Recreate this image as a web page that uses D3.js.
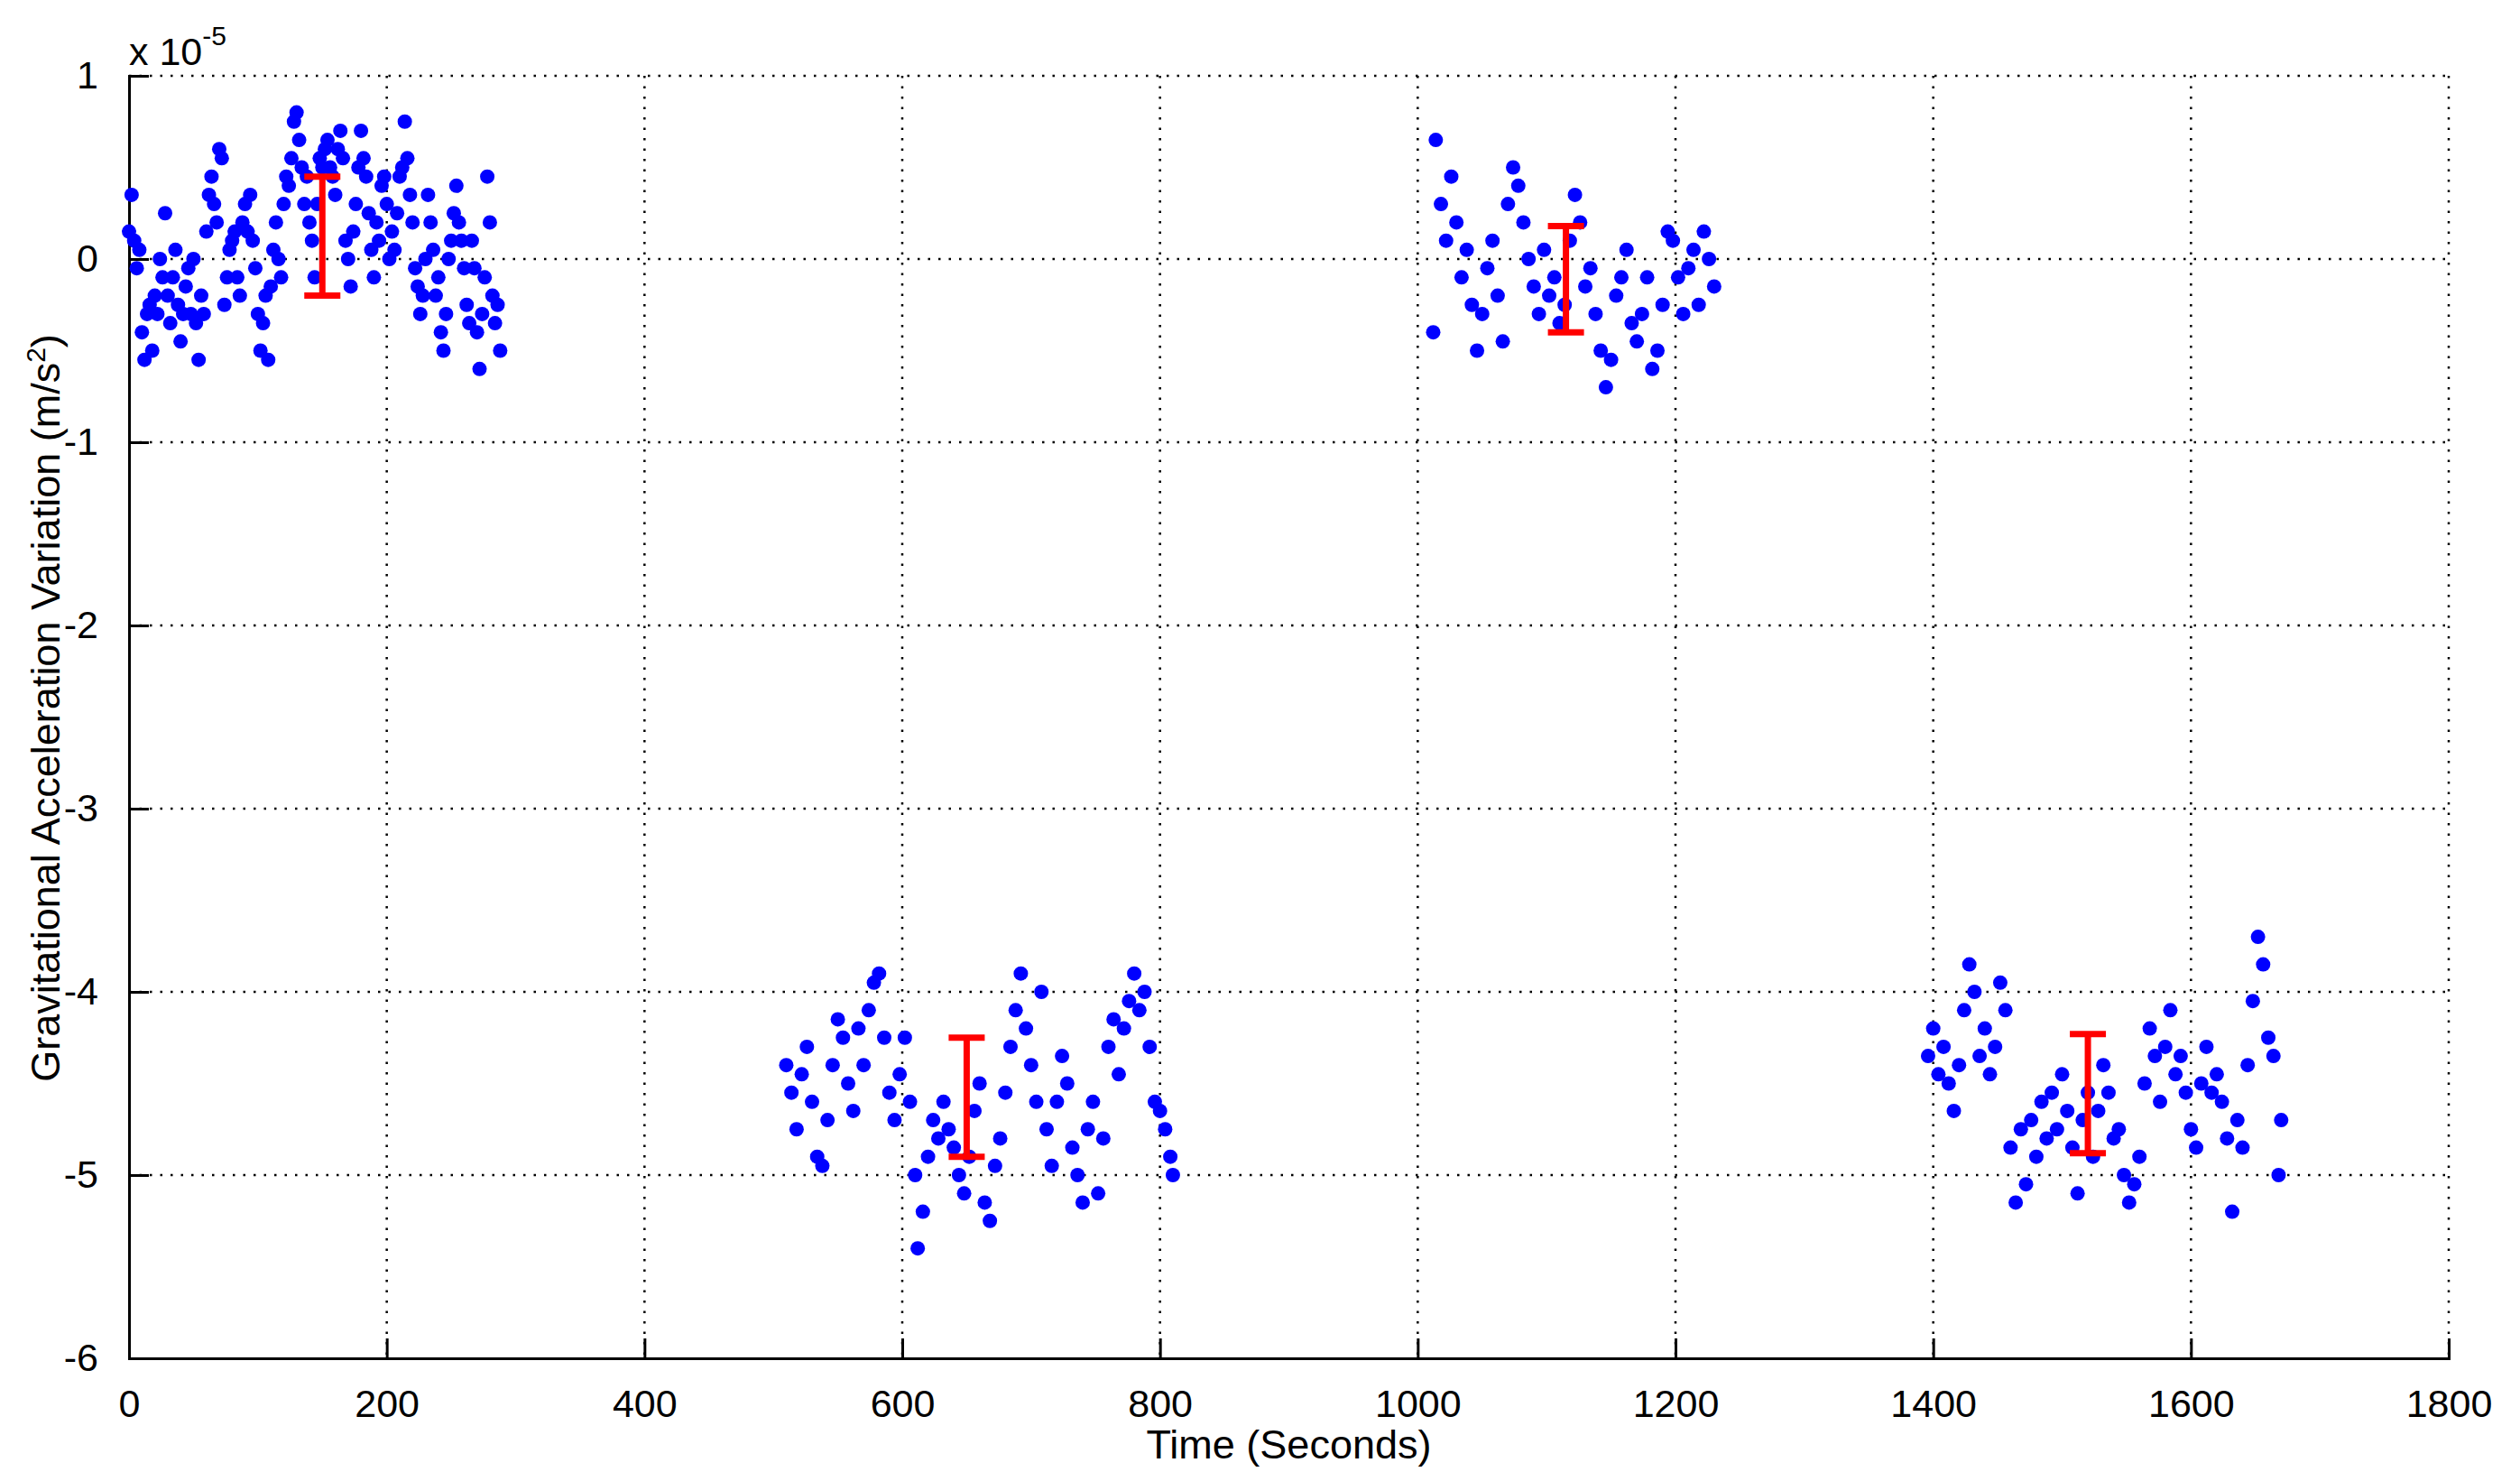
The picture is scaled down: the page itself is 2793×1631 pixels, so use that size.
<!DOCTYPE html>
<html><head><meta charset="utf-8">
<script src="https://cdn.jsdelivr.net/npm/d3@7"></script>
<style>body{margin:0;background:#fff}svg{font-family:"Liberation Sans",Arial,sans-serif}</style>
</head><body><svg id="c" width="2793" height="1631"></svg>
<script>
const xTicks=[0,200,400,600,800,1000,1200,1400,1600,1800];
const yTicks=[1,0,-1,-2,-3,-4,-5,-6];
const cluster1=[[0,0.15],[2,0.35],[4,0.1],[6,-0.05],[8,0.05],[10,-0.4],[12,-0.55],[14,-0.3],[16,-0.25],[18,-0.5],[20,-0.2],[22,-0.3],[24,0.0],[26,-0.1],[28,0.25],[30,-0.2],[32,-0.35],[34,-0.1],[36,0.05],[38,-0.25],[40,-0.45],[42,-0.3],[44,-0.15],[46,-0.05],[48,-0.3],[50,0.0],[52,-0.35],[54,-0.55],[56,-0.2],[58,-0.3],[60,0.15],[62,0.35],[64,0.45],[66,0.3],[68,0.2],[70,0.6],[72,0.55],[74,-0.25],[76,-0.1],[78,0.05],[80,0.1],[82,0.15],[84,-0.1],[86,-0.2],[88,0.2],[90,0.3],[92,0.15],[94,0.35],[96,0.1],[98,-0.05],[100,-0.3],[102,-0.5],[104,-0.35],[106,-0.2],[108,-0.55],[110,-0.15],[112,0.05],[114,0.2],[116,0.0],[118,-0.1],[120,0.3],[122,0.45],[124,0.4],[126,0.55],[128,0.75],[130,0.8],[132,0.65],[134,0.5],[136,0.3],[138,0.45],[140,0.2],[142,0.1],[144,-0.1],[146,0.3],[148,0.55],[150,0.5],[152,0.6],[154,0.65],[156,0.5],[158,0.45],[160,0.35],[162,0.6],[164,0.7],[166,0.55],[168,0.1],[170,0.0],[172,-0.15],[174,0.15],[176,0.3],[178,0.5],[180,0.7],[182,0.55],[184,0.45],[186,0.25],[188,0.05],[190,-0.1],[192,0.2],[194,0.1],[196,0.4],[198,0.45],[200,0.3],[202,0.0],[204,0.15],[206,0.05],[208,0.25],[210,0.45],[212,0.5],[214,0.75],[216,0.55],[218,0.35],[220,0.2],[222,-0.05],[224,-0.15],[226,-0.3],[228,-0.2],[230,0.0],[232,0.35],[234,0.2],[236,0.05],[238,-0.2],[240,-0.1],[242,-0.4],[244,-0.5],[246,-0.3],[248,0.0],[250,0.1],[252,0.25],[254,0.4],[256,0.2],[258,0.1],[260,-0.05],[262,-0.25],[264,-0.35],[266,0.1],[268,-0.05],[270,-0.4],[272,-0.6],[274,-0.3],[276,-0.1],[278,0.45],[280,0.2],[282,-0.2],[284,-0.35],[286,-0.25],[288,-0.5]];
const cluster2=[[510,-4.4],[514,-4.55],[518,-4.75],[522,-4.45],[526,-4.3],[530,-4.6],[534,-4.9],[538,-4.95],[542,-4.7],[546,-4.4],[550,-4.15],[554,-4.25],[558,-4.5],[562,-4.65],[566,-4.2],[570,-4.4],[574,-4.1],[578,-3.95],[582,-3.9],[586,-4.25],[590,-4.55],[594,-4.7],[598,-4.45],[602,-4.25],[606,-4.6],[610,-5.0],[612,-5.4],[616,-5.2],[620,-4.9],[624,-4.7],[628,-4.8],[632,-4.6],[636,-4.75],[640,-4.85],[644,-5.0],[648,-5.1],[652,-4.9],[656,-4.65],[660,-4.5],[664,-5.15],[668,-5.25],[672,-4.95],[676,-4.8],[680,-4.55],[684,-4.3],[688,-4.1],[692,-3.9],[696,-4.2],[700,-4.4],[704,-4.6],[708,-4.0],[712,-4.75],[716,-4.95],[720,-4.6],[724,-4.35],[728,-4.5],[732,-4.85],[736,-5.0],[740,-5.15],[744,-4.75],[748,-4.6],[752,-5.1],[756,-4.8],[760,-4.3],[764,-4.15],[768,-4.45],[772,-4.2],[776,-4.05],[780,-3.9],[784,-4.1],[788,-4.0],[792,-4.3],[796,-4.6],[800,-4.65],[804,-4.75],[808,-4.9],[810,-5.0]];
const cluster3=[[1012,-0.4],[1014,0.65],[1018,0.3],[1022,0.1],[1026,0.45],[1030,0.2],[1034,-0.1],[1038,0.05],[1042,-0.25],[1046,-0.5],[1050,-0.3],[1054,-0.05],[1058,0.1],[1062,-0.2],[1066,-0.45],[1070,0.3],[1074,0.5],[1078,0.4],[1082,0.2],[1086,0.0],[1090,-0.15],[1094,-0.3],[1098,0.05],[1102,-0.2],[1106,-0.1],[1110,-0.35],[1114,-0.25],[1118,0.1],[1122,0.35],[1126,0.2],[1130,-0.15],[1134,-0.05],[1138,-0.3],[1142,-0.5],[1146,-0.7],[1150,-0.55],[1154,-0.2],[1158,-0.1],[1162,0.05],[1166,-0.35],[1170,-0.45],[1174,-0.3],[1178,-0.1],[1182,-0.6],[1186,-0.5],[1190,-0.25],[1194,0.15],[1198,0.1],[1202,-0.1],[1206,-0.3],[1210,-0.05],[1214,0.05],[1218,-0.25],[1222,0.15],[1226,0.0],[1230,-0.15]];
const cluster4=[[1396,-4.35],[1400,-4.2],[1404,-4.45],[1408,-4.3],[1412,-4.5],[1416,-4.65],[1420,-4.4],[1424,-4.1],[1428,-3.85],[1432,-4.0],[1436,-4.35],[1440,-4.2],[1444,-4.45],[1448,-4.3],[1452,-3.95],[1456,-4.1],[1460,-4.85],[1464,-5.15],[1468,-4.75],[1472,-5.05],[1476,-4.7],[1480,-4.9],[1484,-4.6],[1488,-4.8],[1492,-4.55],[1496,-4.75],[1500,-4.45],[1504,-4.65],[1508,-4.85],[1512,-5.1],[1516,-4.7],[1520,-4.55],[1524,-4.9],[1528,-4.65],[1532,-4.4],[1536,-4.55],[1540,-4.8],[1544,-4.75],[1548,-5.0],[1552,-5.15],[1556,-5.05],[1560,-4.9],[1564,-4.5],[1568,-4.2],[1572,-4.35],[1576,-4.6],[1580,-4.3],[1584,-4.1],[1588,-4.45],[1592,-4.35],[1596,-4.55],[1600,-4.75],[1604,-4.85],[1608,-4.5],[1612,-4.3],[1616,-4.55],[1620,-4.45],[1624,-4.6],[1628,-4.8],[1632,-5.2],[1636,-4.7],[1640,-4.85],[1644,-4.4],[1648,-4.05],[1652,-3.7],[1656,-3.85],[1660,-4.25],[1664,-4.35],[1668,-5.0],[1670,-4.7]];
const errT=[150,650,1115,1520];
const errLo=[-0.2,-4.9,-0.4,-4.88];
const errHi=[0.45,-4.25,0.18,-4.23];

const svg=d3.select("#c");
const L=143,R=2714,T=84,B=1505;
const x=d3.scaleLinear().domain([0,1800]).range([L,R]);
const y=d3.scaleLinear().domain([-6,1]).range([B,T]);
const g=svg.append("g");
g.selectAll(".gx").data(xTicks.slice(1)).join("line").attr("x1",d=>x(d)).attr("x2",d=>x(d)).attr("y1",T).attr("y2",B)
 .attr("stroke","#000").attr("stroke-width",2.5).attr("stroke-dasharray","2.5,9");
g.selectAll(".gy").data(yTicks.slice(0,-1)).join("line").attr("y1",d=>y(d)).attr("y2",d=>y(d)).attr("x1",L).attr("x2",R)
 .attr("stroke","#000").attr("stroke-width",2.5).attr("stroke-dasharray","2.5,9");
const fs=43;
const xa=svg.append("g").attr("transform",`translate(0,${B})`).call(d3.axisBottom(x).tickValues(xTicks).tickSize(-22).tickPadding(34).tickFormat(d3.format("d")));
const ya=svg.append("g").attr("transform",`translate(${L},0)`).call(d3.axisLeft(y).tickValues(yTicks).tickSize(-22).tickPadding(34).tickFormat(d=>d));
[xa,ya].forEach(a=>{a.select(".domain").attr("stroke-width",3);a.selectAll(".tick line").attr("stroke-width",3);
 a.selectAll("text").attr("font-size",fs).attr("fill","#000").attr("font-family","Liberation Sans, Arial, sans-serif");});
const all=[...cluster1,...cluster2,...cluster3,...cluster4];
svg.append("g").selectAll("circle").data(all).join("circle").attr("cx",d=>x(d[0])).attr("cy",d=>y(d[1])).attr("r",8).attr("fill","#0000ff");
const eb=svg.append("g").attr("stroke","#ff0000").attr("stroke-width",7);
const cw=20;
errT.forEach((t,i)=>{
 eb.append("line").attr("x1",x(t)).attr("x2",x(t)).attr("y1",y(errLo[i])).attr("y2",y(errHi[i]));
 eb.append("line").attr("x1",x(t)-cw).attr("x2",x(t)+cw).attr("y1",y(errLo[i])).attr("y2",y(errLo[i]));
 eb.append("line").attr("x1",x(t)-cw).attr("x2",x(t)+cw).attr("y1",y(errHi[i])).attr("y2",y(errHi[i]));
});
svg.append("text").attr("x",143).attr("y",72).attr("font-size",43).text("x 10").append("tspan").attr("dy",-22).attr("font-size",30).text("-5");
svg.append("text").attr("x",(L+R)/2).attr("y",1616).attr("text-anchor","middle").attr("font-size",45).text("Time (Seconds)");
svg.append("text").attr("transform",`translate(66,${(T+B)/2-10}) rotate(-90)`).attr("text-anchor","middle").attr("font-size",45)
 .text("Gravitational Acceleration Variation (m/s").append("tspan").attr("dy",-16).attr("font-size",30).text("2").append("tspan").attr("dy",16).attr("font-size",45).text(")");
</script></body></html>
